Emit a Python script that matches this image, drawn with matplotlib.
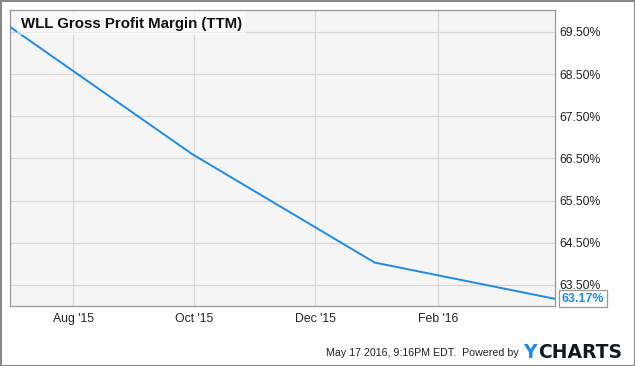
import datetime as dt

import matplotlib

matplotlib.use("Agg")
import matplotlib.dates as mdates
import matplotlib.pyplot as plt

# data
dates = [dt.date(2015, 6, 30), dt.date(2015, 9, 30), dt.date(2015, 12, 31), dt.date(2016, 3, 31)]
margin = [69.62, 66.60, 64.03, 63.17]
ytick_vals = [63.5, 64.5, 65.5, 66.5, 67.5, 68.5, 69.5]
xtick_dates = [dt.date(2015, 8, 1), dt.date(2015, 10, 1), dt.date(2015, 12, 1), dt.date(2016, 2, 1)]

plt.rcParams["font.family"] = ["Liberation Sans", "DejaVu Sans"]
BLUE = "#1f8be8"

fig = plt.figure(figsize=(6.35, 3.66), dpi=100)
ax = fig.add_axes([10 / 635, 60 / 366, 545 / 635, 296 / 366])
ax.set_facecolor("#f5f5f5")
ax.plot(dates, margin, color=BLUE, linewidth=1.4, zorder=3)

ax.set_xlim(dates[0], dates[-1])
ax.set_ylim(63.0, 70.02)
ax.set_xticks(xtick_dates)
ax.xaxis.set_major_formatter(mdates.DateFormatter("%b '%y"))
ax.set_yticks(ytick_vals)
ax.set_yticklabels([f"{v:.2f}%" for v in ytick_vals])
ax.yaxis.tick_right()
ax.tick_params(axis="both", length=0, labelsize=8.8, colors="#222222")
ax.tick_params(axis="y", pad=3.5)
ax.tick_params(axis="x", pad=5)
ax.grid(True, color="#d8d8d8", linewidth=0.9)
ax.set_axisbelow(True)
for s in ax.spines.values():
    s.set_color("#999999")
    s.set_linewidth(0.9)

ax.text(0.02, 0.978, "WLL Gross Profit Margin (TTM)", transform=ax.transAxes,
        fontsize=10.8, fontweight="bold", va="top", ha="left", color="#111111",
        bbox=dict(facecolor="white", alpha=0.55, edgecolor="none", pad=3), zorder=5)

# last value tag
last_y = ax.transLimits.transform((0, margin[-1]))[1]
ax.annotate(f"{margin[-1]:.2f}%", xy=(1.0, last_y), xycoords="axes fraction",
            xytext=(5, 0), textcoords="offset points", va="center", ha="left",
            fontsize=9, fontweight="bold", color=BLUE, annotation_clip=False,
            bbox=dict(boxstyle="square,pad=0.2", facecolor="white", edgecolor="#999999", linewidth=0.9))

fig.text(519 / 635, 1 - 353 / 366, "May 17 2016, 9:16PM EDT.  Powered by", ha="right", va="center",
         fontsize=7.7, color="#222222")
fig.text(523 / 635, 1 - 352 / 366, "Y", ha="left", va="center", fontsize=13.5, fontweight="bold",
         color=BLUE, family="DejaVu Sans")
fig.text(538 / 635, 1 - 352 / 366, "CHARTS", ha="left", va="center", fontsize=13.5, fontweight="bold",
         color="#111a24", family="DejaVu Sans")

fig.patches.append(plt.Rectangle((0.5 / 635, 0.5 / 366), 634 / 635, 365 / 366, transform=fig.transFigure,
                                 fill=False, edgecolor="#888888", linewidth=1.5))

fig.savefig("out.png", dpi=100)
